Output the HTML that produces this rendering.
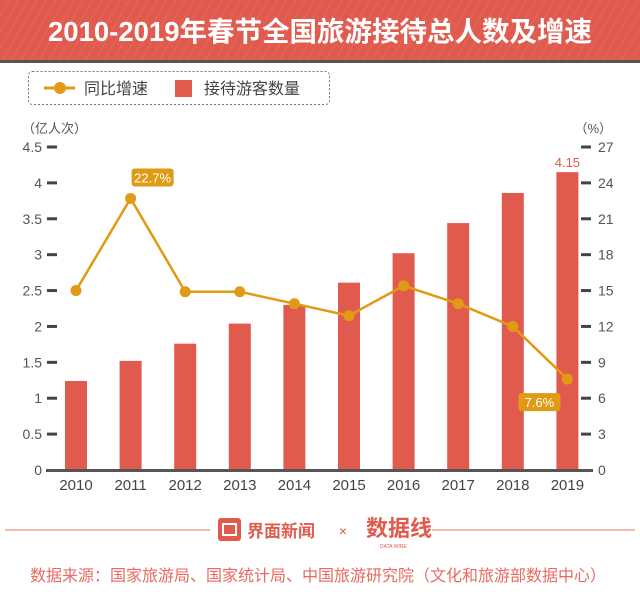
<!DOCTYPE html>
<html><head><meta charset="utf-8"><style>
body{margin:0;width:640px;height:606px;background:#fff;overflow:hidden;font-family:"Liberation Sans","Noto Sans CJK SC",sans-serif}
svg{display:block}
</style></head><body>
<svg id="c" width="640" height="606" xmlns="http://www.w3.org/2000/svg">
<defs><pattern id="hatch" width="8" height="8" patternUnits="userSpaceOnUse" patternTransform="rotate(30)"><rect width="8" height="8" fill="#e05a4e"/><line x1="0" y1="0" x2="0" y2="8" stroke="#e6766b" stroke-width="1"/></pattern></defs>
<rect x="0" y="0" width="640" height="60" fill="url(#hatch)"/>
<rect x="0" y="60" width="640" height="3" fill="#555"/>
<text x="320" y="41" text-anchor="middle" font-size="27.5" font-weight="bold" fill="#fff">2010-2019年春节全国旅游接待总人数及增速</text>
<g>
<rect x="28.5" y="71.5" width="301" height="33" rx="4" fill="none" stroke="#777" stroke-dasharray="2,2"/>
<g><line x1="44" y1="88" x2="75" y2="88" stroke="#e09a14" stroke-width="3"/><circle cx="60" cy="88" r="6" fill="#e09a14"/><text x="84" y="94" font-size="16" fill="#444">同比增速</text></g>
<g><rect x="175" y="80" width="17" height="17" fill="#e05a4e"/><text x="204" y="94" font-size="16" fill="#444">接待游客数量</text></g>
</g>
<text x="22" y="133" font-size="13" fill="#555">（亿人次）</text>
<text x="612" y="133" font-size="13" fill="#555" text-anchor="end">（%）</text>
<g id="plot"></g>
<g>
<line x1="5" y1="530" x2="210" y2="530" stroke="#f0a098" stroke-width="1.5"/>
<line x1="432" y1="530" x2="635" y2="530" stroke="#f0a098" stroke-width="1.5"/>
<rect x="218" y="518" width="23" height="23" rx="3" fill="#e05a4e"/>
<rect x="223" y="524" width="13" height="11" fill="none" stroke="#fff" stroke-width="2"/>
<text x="247" y="537" font-size="17" font-weight="bold" fill="#e05a4e">界面新闻</text>
<text x="343" y="536" font-size="14" fill="#e05a4e" text-anchor="middle">×</text>
<text x="366" y="536" font-size="22" font-weight="bold" fill="#e05a4e">数据线</text>
<text x="380" y="548" font-size="5" fill="#e05a4e">DATA WIRE</text>
<text x="318" y="581" font-size="16" fill="#e86a60" text-anchor="middle">数据来源：国家旅游局、国家统计局、中国旅游研究院（文化和旅游部数据中心）</text>
</g>
</svg>
<script>
const years=["2010","2011","2012","2013","2014","2015","2016","2017","2018","2019"];
const visitors=[1.24,1.52,1.76,2.04,2.30,2.61,3.02,3.44,3.86,4.15];
const growth=[15.0,22.7,14.9,14.9,13.9,12.9,15.4,13.9,12.0,7.6];
const leftTicks=["0","0.5","1","1.5","2","2.5","3","3.5","4","4.5"];
const rightTicks=["0","3","6","9","12","15","18","21","24","27"];
const NS="http://www.w3.org/2000/svg";
const g=document.getElementById("plot");
const y0=470,yTop=147;
const yL=v=>y0-(v/4.5)*(y0-yTop);
const yR=v=>y0-(v/27)*(y0-yTop);
const xS=i=>76+i*54.6;
function mk(t,a,p){const e=document.createElementNS(NS,t);for(const k in a)e.setAttribute(k,a[k]);(p||g).appendChild(e);return e;}
leftTicks.forEach((t,i)=>{const v=parseFloat(t),y=yL(v);
 const e=mk("text",{x:42,y:y+5,"font-size":14,fill:"#555","text-anchor":"end"});e.textContent=t;
 
 
 if(v>0)mk("rect",{x:47,y:y-1.5,width:10,height:3,fill:"#444"});});
rightTicks.forEach((t,i)=>{const v=parseFloat(t),y=yR(v);
 const e=mk("text",{x:598,y:y+5,"font-size":14,fill:"#555"});e.textContent=t;
 
 
 if(v>0)mk("rect",{x:581,y:y-1.5,width:10,height:3,fill:"#444"});});
visitors.forEach((v,i)=>{const r=mk("rect",{x:xS(i)-11,y:yL(v),width:22,height:y0-yL(v),fill:"#e05a4e"});
 
 
 const t=mk("text",{x:xS(i),y:y0+20,"font-size":15,fill:"#444","text-anchor":"middle"});t.textContent=years[i];
 
 });
const ax=mk("rect",{x:46,y:y0-1,width:547,height:3,fill:"#555"});


const pl=mk("polyline",{points:growth.map((v,i)=>xS(i)+","+yR(v)).join(" "),fill:"none",stroke:"#e09a14","stroke-width":2.5});


growth.forEach((v,i)=>{const c=mk("circle",{cx:xS(i),cy:yR(v),r:5.5,fill:"#e09a14"});
 
 });
function callout(i,dx,dy,txt,name){const x=xS(i)+dx,y=yR(growth[i])+dy;
 const r=mk("rect",{x:x-21,y:y-10,width:42,height:18,rx:3,fill:"#e09a14"});
 
 
 const t=mk("text",{x:x,y:y+4,"font-size":13,fill:"#fff","text-anchor":"middle"});t.textContent=txt;}
callout(1,22,-20,growth[1]+"%","callout-2011");
callout(9,-28,24,growth[9]+"%","callout-2019");
const lt=mk("text",{x:xS(9),y:yL(visitors[9])-5,"font-size":13,fill:"#e05a4e","text-anchor":"middle"});lt.textContent=visitors[9];


</script>
</body></html>
